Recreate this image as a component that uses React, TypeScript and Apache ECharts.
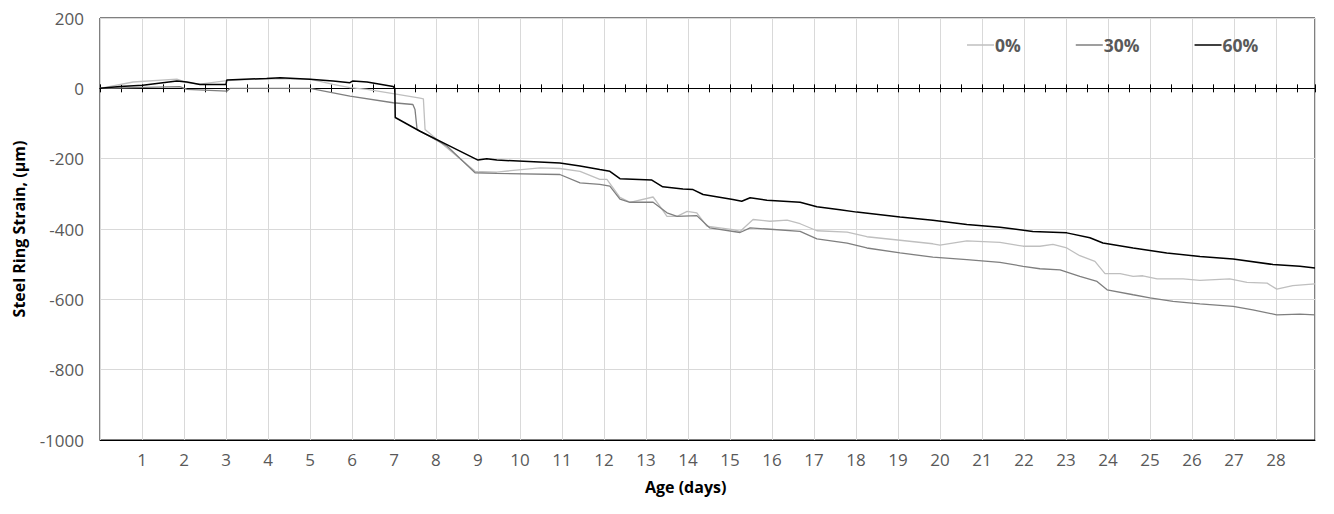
import React, { useEffect, useRef } from "react";
import * as echarts from "echarts";

// [age (days), strain (µm)]
const strain0: [number, number][] = [
  [0, 0], [0.79, 18], [1.83, 26], [2.07, 16], [2.38, 12], [3.02, 22], [3.97, 28], [5.0, 26],
  [5.55, 11], [5.95, 2], [6.36, -3], [6.98, -15], [7.62, -28], [7.7, -30], [7.74, -117],
  [8.26, -169], [8.93, -236], [9.45, -238], [10.48, -226], [10.95, -228], [11.43, -236],
  [11.9, -259], [12.07, -259], [12.38, -310], [12.62, -324], [13.17, -309], [13.33, -335],
  [13.5, -364], [13.74, -364], [13.98, -350], [14.21, -354], [14.45, -392], [15.07, -402],
  [15.24, -407], [15.55, -373], [15.95, -378], [16.36, -375], [16.67, -385], [17.07, -405],
  [17.79, -409], [18.26, -422], [19.05, -432], [19.83, -442], [20.0, -446], [20.64, -434],
  [21.43, -438], [21.98, -449], [22.38, -449], [22.69, -444], [23.02, -454], [23.33, -476],
  [23.69, -492], [23.93, -527], [24.29, -527], [24.6, -535], [24.83, -533], [25.17, -542],
  [25.79, -542], [26.19, -546], [26.9, -542], [27.31, -552], [27.79, -554], [28.02, -571],
  [28.4, -561], [28.93, -556],
];

const strain30: [number, number][] = [
  [0, 0], [1.9, 5], [2.07, -3], [3.02, -8], [3.1, 0], [5.0, 0], [5.95, -22], [6.98, -41],
  [7.45, -46], [7.5, -60], [7.55, -117], [8.26, -164], [8.93, -240], [9.45, -242],
  [10.95, -245], [11.43, -269], [11.9, -273], [12.14, -278], [12.38, -315], [12.62, -324],
  [13.17, -324], [13.5, -354], [13.74, -364], [14.21, -362], [14.52, -397], [15.24, -410],
  [15.48, -397], [15.88, -400], [16.67, -407], [17.07, -428], [17.79, -440], [18.26, -454],
  [19.05, -468], [19.83, -480], [20.64, -487], [21.43, -495], [21.98, -506], [22.38, -513],
  [22.86, -516], [23.33, -535], [23.74, -549], [23.98, -573], [24.6, -587], [25.0, -596],
  [25.55, -606], [26.19, -613], [26.98, -620], [27.45, -630], [28.02, -644], [28.57, -642],
  [28.93, -644],
];

const strain60: [number, number][] = [
  [0, 0], [0.48, 5], [1.02, 9], [1.83, 21], [2.07, 18], [2.38, 11], [2.86, 11], [3.0, 11],
  [3.02, 24], [3.97, 28], [4.29, 30], [5.0, 26], [5.55, 21], [5.95, 16], [6.02, 21],
  [6.36, 18], [6.98, 5], [7.02, 0], [7.03, -83], [7.62, -122], [8.26, -160], [9.0, -204],
  [9.21, -200], [9.45, -204], [10.95, -212], [11.43, -221], [11.9, -231], [12.14, -236],
  [12.38, -257], [13.14, -261], [13.4, -280], [13.88, -286], [14.12, -288], [14.36, -302],
  [15.07, -316], [15.28, -321], [15.48, -311], [15.88, -318], [16.67, -324], [17.07, -337],
  [17.62, -345], [18.02, -352], [19.05, -366], [19.83, -375], [20.64, -387], [21.43, -395],
  [22.21, -407], [23.02, -411], [23.57, -425], [23.88, -440], [24.6, -454], [25.4, -468],
  [26.19, -478], [26.98, -485], [27.93, -501], [28.57, -506], [28.93, -511],
];

const seriesNames = ["0%", "30%", "60%"];
const xMax = 28.93;
const yMin = -1000;
const yMax = 200;

const FONT = "'Open Sans', sans-serif";

export default function App() {
  const ref = useRef<HTMLDivElement>(null);

  useEffect(() => {
    if (!ref.current) return;
    const chart = echarts.init(ref.current, undefined, { renderer: "svg" });
    const tickAxis = (inside: boolean) => ({
      type: "value",
      min: 0,
      max: xMax,
      interval: 0.5,
      axisLine: { show: true, onZero: true, onZeroAxisIndex: 0, lineStyle: { color: "#000", width: 1 } },
      axisTick: { show: true, inside, length: 4, lineStyle: { color: "#000", width: 1 } },
      axisLabel: { show: false },
      splitLine: { show: false },
    });
    chart.setOption({
      animation: false,
      backgroundColor: "#fff",
      textStyle: { fontFamily: FONT },
      grid: {
        left: 100,
        top: 18,
        right: 19,
        bottom: 74,
        show: true,
        borderColor: "#000",
        borderWidth: 1,
      },
      legend: {
        data: seriesNames.map((n) => ({ name: n, icon: "rect" })),
        left: 962,
        top: 31,
        itemWidth: 27,
        itemHeight: 1.5,
        itemGap: 55,
        textStyle: { fontFamily: FONT, fontSize: 17.5, fontWeight: "bold", color: "#595959", padding: [0, 0, 0, -4] },
      },
      xAxis: [
        {
          type: "value",
          min: 0,
          max: xMax,
          interval: 1,
          position: "bottom",
          axisLine: { show: true, onZero: false, lineStyle: { color: "#000", width: 1 } },
          axisTick: { show: false },
          axisLabel: {
            color: "#595959",
            fontSize: 17,
            fontFamily: FONT,
            margin: 11,
            showMaxLabel: false,
            formatter: (v: number) => (v === 0 ? "" : String(v)),
          },
          splitLine: { show: true, lineStyle: { color: "#d9d9d9", width: 1 } },
        },
        tickAxis(false),
        tickAxis(true),
      ],
      yAxis: {
        type: "value",
        min: yMin,
        max: yMax,
        interval: 200,
        name: "Steel Ring Strain, (µm)",
        nameLocation: "middle",
        nameGap: 73,
        nameTextStyle: { fontFamily: FONT, fontSize: 16, fontWeight: "bold", color: "#000" },
        axisLine: { show: false },
        axisTick: { show: false },
        axisLabel: {
          color: "#595959",
          fontSize: 17,
          fontFamily: FONT,
          margin: 16,
          formatter: (v: number) => String(v),
        },
        splitLine: { show: true, lineStyle: { color: "#d9d9d9", width: 1 } },
      },
      graphic: [
        {
          type: "text",
          left: 645,
          top: 479,
          style: {
            text: "Age (days)",
            fontFamily: FONT,
            fontSize: 16,
            fontWeight: "bold",
            fill: "#000",
          },
        },
      ],
      series: [
        {
          name: "0%",
          type: "line",
          data: strain0,
          symbol: "none",
          showSymbol: false,
          lineStyle: { color: "#bfbfbf", width: 1.3 },
          itemStyle: { color: "#bfbfbf" },
        },
        {
          name: "30%",
          type: "line",
          data: strain30,
          symbol: "none",
          showSymbol: false,
          lineStyle: { color: "#7f7f7f", width: 1.3 },
          itemStyle: { color: "#7f7f7f" },
        },
        {
          name: "60%",
          type: "line",
          data: strain60,
          symbol: "none",
          showSymbol: false,
          lineStyle: { color: "#000", width: 1.5 },
          itemStyle: { color: "#000" },
        },
      ],
    });
    return () => chart.dispose();
  }, []);

  return (
    <div
      ref={ref}
      style={{ position: "fixed", left: 0, top: 0, width: 1334, height: 514, background: "#fff" }}
    />
  );
}
